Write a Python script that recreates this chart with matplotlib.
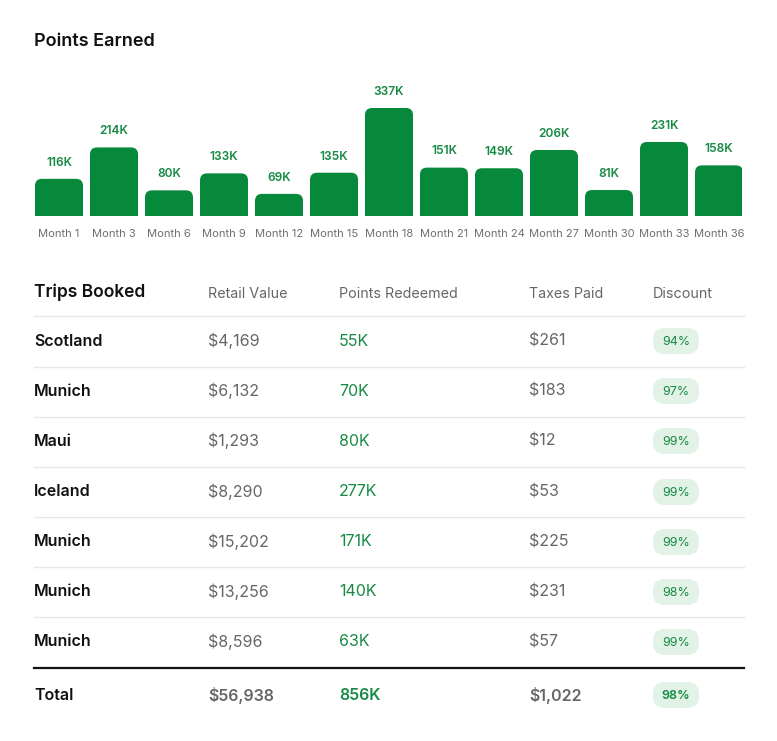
import matplotlib.pyplot as plt
from matplotlib.patches import FancyBboxPatch, Rectangle

plt.rcParams['font.family'] = ['Inter', 'DejaVu Sans']

# bar chart data
months = ["Month 1", "Month 3", "Month 6", "Month 9", "Month 12", "Month 15", "Month 18",
          "Month 21", "Month 24", "Month 27", "Month 30", "Month 33", "Month 36"]
points = [116, 214, 80, 133, 69, 135, 337, 151, 149, 206, 81, 231, 158]

# table data
trips = ["Scotland", "Munich", "Maui", "Iceland", "Munich", "Munich", "Munich"]
retail = ["$4,169", "$6,132", "$1,293", "$8,290", "$15,202", "$13,256", "$8,596"]
redeemed = ["55K", "70K", "80K", "277K", "171K", "140K", "63K"]
taxes = ["$261", "$183", "$12", "$53", "$225", "$231", "$57"]
discount = ["94%", "97%", "99%", "99%", "99%", "98%", "99%"]
headers = ["Trips Booked", "Retail Value", "Points Redeemed", "Taxes Paid", "Discount"]
totals = ["Total", "$56,938", "856K", "$1,022", "98%"]

GREEN = "#07893b"
TGREEN = "#178a45"
GRAY = "#666666"
PILL = "#e3f2e6"
W, H = 777, 741

fig = plt.figure(figsize=(W / 100, H / 100), dpi=100)
fig.patch.set_facecolor("white")

# background axes in pixel coords for the table and title
bg = fig.add_axes([0, 0, 1, 1])
bg.set_xlim(0, W)
bg.set_ylim(H, 0)
bg.axis("off")

bg.text(34, 42, "Points Earned", fontsize=13, fontweight="semibold", color="#111111",
        va="center", ha="left")

# bar chart
top_px, base_px = 80, 216
ax = fig.add_axes([35 / W, 1 - base_px / H, (742 - 35) / W, (base_px - top_px) / H])
unit_px = 55.0
ymax = (base_px - top_px) / 108 * 337
ax.set_xlim(-24 / unit_px, 12 + 23 / unit_px)
ax.set_ylim(0, ymax)
ax.axis("off")
bw = 48 / unit_px
r_x = 7 / unit_px
r_y = 7 / 108 * 337
for i, v in enumerate(points):
    x0 = i - bw / 2
    p = FancyBboxPatch((x0, 0), bw, v, boxstyle="round,pad=0,rounding_size=%f" % r_x,
                       mutation_aspect=r_y / r_x, facecolor=GREEN, edgecolor="none")
    ax.add_patch(p)
    ax.add_patch(Rectangle((x0, 0), bw, v / 2, facecolor=GREEN, edgecolor="none"))
    ax.text(i, v + ymax * 0.075, f"{v}K", ha="center", va="bottom", fontsize=8.6,
            fontweight="semibold", color=TGREEN)
    ax.text(i, -ymax * 0.135, months[i], ha="center", va="center", fontsize=8,
            color="#6f6f6f")

# table
cols = [34, 208, 339, 529, 653]
bg.text(cols[0], 292, headers[0], fontsize=12.5, fontweight="semibold", color="#111111",
        va="center")
for c, h in zip(cols[1:], headers[1:]):
    bg.text(c, 294, h, fontsize=10.3, color=GRAY, va="center")

row_y = [341, 391, 441, 492, 542, 592, 642]
sep_y = [316, 367, 417, 467, 517, 567, 617]
for y in sep_y:
    bg.plot([34, 744], [y, y], color="#e8e8e8", lw=1)


def pill(x, y, txt, bold=False):
    bg.add_patch(FancyBboxPatch((x + 4, y - 9), 38, 18,
                                boxstyle="round,pad=4,rounding_size=12",
                                facecolor=PILL, edgecolor="none"))
    bg.text(x + 23, y + 1, txt, ha="center", va="center", fontsize=9,
            color=TGREEN, fontweight="semibold" if bold else "normal")


for i, y in enumerate(row_y):
    bg.text(cols[0], y, trips[i], fontsize=11.5, fontweight="semibold", color="#111111",
            va="center")
    bg.text(cols[1], y, retail[i], fontsize=11.5, color=GRAY, va="center")
    bg.text(cols[2], y, redeemed[i], fontsize=11.5, color=TGREEN, va="center")
    bg.text(cols[3], y, taxes[i], fontsize=11.5, color=GRAY, va="center")
    pill(cols[4], y, discount[i])

bg.plot([34, 744], [668, 668], color="#111111", lw=1.6)
ty = 695
bg.text(cols[0], ty, totals[0], fontsize=11.5, fontweight="semibold", color="#111111", va="center")
bg.text(cols[1], ty, totals[1], fontsize=11.5, fontweight="semibold", color=GRAY, va="center")
bg.text(cols[2], ty, totals[2], fontsize=11.5, fontweight="semibold", color=TGREEN, va="center")
bg.text(cols[3], ty, totals[3], fontsize=11.5, fontweight="semibold", color=GRAY, va="center")
pill(cols[4], ty, totals[4], bold=True)

fig.savefig("out.png", dpi=100, facecolor="white")
